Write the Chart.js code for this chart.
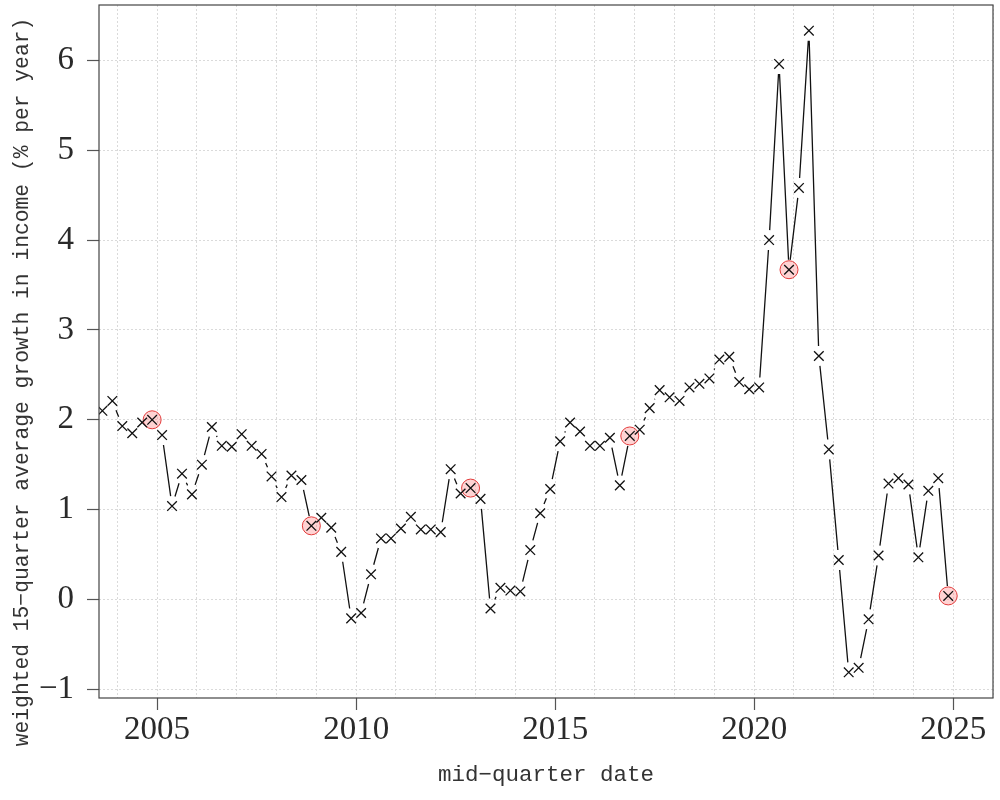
<!DOCTYPE html>
<html>
<head>
<meta charset="utf-8">
<script src="https://cdn.jsdelivr.net/npm/chart.js@4"></script>
<style>
  html, body { margin: 0; padding: 0; background: #fff; }
  canvas { display: block; }
</style>
</head>
<body>
<canvas id="growth_chart" width="1000" height="800"></canvas>
<script>
"use strict"

// quarters shown (mid-quarter dates on the x axis)
var quarters = [
  '2003Q3','2003Q4',
  '2004Q1','2004Q2','2004Q3','2004Q4','2005Q1','2005Q2','2005Q3','2005Q4',
  '2006Q1','2006Q2','2006Q3','2006Q4','2007Q1','2007Q2','2007Q3','2007Q4',
  '2008Q1','2008Q2','2008Q3','2008Q4','2009Q1','2009Q2','2009Q3','2009Q4',
  '2010Q1','2010Q2','2010Q3','2010Q4','2011Q1','2011Q2','2011Q3','2011Q4',
  '2012Q1','2012Q2','2012Q3','2012Q4','2013Q1','2013Q2','2013Q3','2013Q4',
  '2014Q1','2014Q2','2014Q3','2014Q4','2015Q1','2015Q2','2015Q3','2015Q4',
  '2016Q1','2016Q2','2016Q3','2016Q4','2017Q1','2017Q2','2017Q3','2017Q4',
  '2018Q1','2018Q2','2018Q3','2018Q4','2019Q1','2019Q2','2019Q3','2019Q4',
  '2020Q1','2020Q2','2020Q3','2020Q4','2021Q1','2021Q2','2021Q3','2021Q4',
  '2022Q1','2022Q2','2022Q3','2022Q4','2023Q1','2023Q2','2023Q3','2023Q4',
  '2024Q1','2024Q2','2024Q3','2024Q4'
];

// weighted 15-quarter average growth in income (% per year)
var growth = [
  2.10, 2.21,
  1.93, 1.85, 1.97, 2.00, 1.83, 1.04, 1.40, 1.17,
  1.50, 1.92, 1.71, 1.70, 1.84, 1.71, 1.62, 1.37,
  1.14, 1.38, 1.33, 0.82, 0.91, 0.80, 0.53, -0.21,
  -0.15, 0.28, 0.68, 0.68, 0.79, 0.92, 0.78, 0.78,
  0.75, 1.45, 1.18, 1.24, 1.12, -0.10, 0.13, 0.10,
  0.09, 0.55, 0.96, 1.23, 1.76, 1.97, 1.87, 1.71,
  1.71, 1.80, 1.27, 1.82, 1.89, 2.13, 2.33, 2.25,
  2.21, 2.36, 2.40, 2.46, 2.67, 2.70, 2.42, 2.34,
  2.36, 4.00, 5.96, 3.67, 4.58, 6.33, 2.71, 1.67,
  0.44, -0.81, -0.76, -0.22, 0.49, 1.29, 1.35, 1.28,
  0.47, 1.21, 1.35, 0.04
];

// election quarters circled in red
var highlighted = ['2004Q4','2008Q4','2012Q4','2016Q4','2020Q4','2024Q4'];

var xTicks = [2005, 2010, 2015, 2020, 2025];
var xTitle = 'mid\u2212quarter date';
var yTitle = 'weighted 15\u2212quarter average growth in income (% per year)';

var midQuarter = [0.125, 0.375, 0.625, 0.875];
function quarterToX(q) {
  return parseInt(q.slice(0, 4), 10) + midQuarter[parseInt(q.slice(5), 10) - 1];
}

var mainPoints = quarters.map(function (q, i) { return { x: quarterToX(q), y: growth[i] }; });
var circlePoints = highlighted.map(function (q) {
  return { x: quarterToX(q), y: growth[quarters.indexOf(q)] };
});

// R-style type="b": segments stop short of each marker
var GAP = 10;
var gappedLines = {
  id: 'gappedLines',
  beforeDatasetsDraw: function (chart) {
    var pts = chart.getDatasetMeta(1).data;
    var ctx = chart.ctx;
    ctx.save();
    ctx.strokeStyle = '#111';
    ctx.lineWidth = 1.3;
    ctx.beginPath();
    for (var i = 0; i < pts.length - 1; i++) {
      var a = pts[i], b = pts[i + 1];
      var dx = b.x - a.x, dy = b.y - a.y, d = Math.hypot(dx, dy);
      if (d <= 2 * GAP) continue;
      var ux = dx / d, uy = dy / d;
      ctx.moveTo(a.x + ux * GAP, a.y + uy * GAP);
      ctx.lineTo(b.x - ux * GAP, b.y - uy * GAP);
    }
    ctx.stroke();
    ctx.restore();
  }
};

var frameAndTitles = {
  id: 'frameAndTitles',
  afterDraw: function (chart) {
    var ctx = chart.ctx, area = chart.chartArea;
    ctx.save();
    ctx.strokeStyle = '#444';
    ctx.lineWidth = 1.2;
    ctx.strokeRect(area.left, area.top, area.right - area.left, area.bottom - area.top);

    ctx.fillStyle = '#333';
    ctx.textAlign = 'center';
    ctx.textBaseline = 'middle';
    ctx.font = '22.5px "Liberation Mono"';
    ctx.fillText(xTitle, (area.left + area.right) / 2, 775);

    ctx.translate(22, 382);
    ctx.rotate(-Math.PI / 2);
    ctx.font = '21.3px "Liberation Mono"';
    ctx.fillText(yTitle, 0, 0);
    ctx.restore();
  }
};

var growth_config = {
  type: 'scatter',
  data: {
    datasets: [{
      data: circlePoints,
      order: 2,
      pointStyle: 'circle',
      pointRadius: 9,
      pointBackgroundColor: 'rgba(255, 110, 110, 0.3)',
      pointBorderColor: '#e23b3b',
      pointBorderWidth: 1,
      showLine: false
    }, {
      data: mainPoints,
      order: 1,
      pointStyle: 'crossRot',
      pointRadius: 6.8,
      pointBorderColor: '#111',
      pointBorderWidth: 1.3,
      showLine: false
    }]
  },
  options: {
    responsive: false,
    animation: false,
    devicePixelRatio: 1,
    layout: { autoPadding: false, padding: { top: 5, right: 7, left: 0, bottom: 0 } },
    plugins: {
      legend: { display: false },
      tooltip: { enabled: false }
    },
    scales: {
      x: {
        type: 'linear',
        min: 2003.54,
        max: 2026.0,
        afterFit: function (scale) {
          scale.height = 102;
          scale.paddingLeft = 0;
          scale.paddingRight = 0;
        },
        grid: {
          color: '#dadada',
          lineWidth: 1,
          tickLength: 12,
          tickWidth: 1.2,
          tickColor: function (c) {
            return xTicks.indexOf(c.tick && c.tick.value) >= 0 ? '#555' : 'rgba(0,0,0,0)';
          }
        },
        border: { display: false, dash: [2, 2] },
        ticks: {
          stepSize: 1,
          includeBounds: false,
          autoSkip: false,
          maxRotation: 0,
          padding: 4,
          color: '#2a2a2a',
          font: { family: '"Liberation Serif"', size: 33, lineHeight: 1 },
          callback: function (v) { return xTicks.indexOf(v) >= 0 ? String(v) : ''; }
        }
      },
      y: {
        min: -1.096,
        max: 6.616,
        afterFit: function (scale) {
          scale.width = 99;
          scale.paddingTop = 0;
          scale.paddingBottom = 0;
        },
        grid: {
          color: '#dadada',
          lineWidth: 1,
          tickLength: 12,
          tickWidth: 1.2,
          tickColor: '#555'
        },
        border: { display: false, dash: [2, 2] },
        ticks: {
          stepSize: 1,
          includeBounds: false,
          padding: 13,
          color: '#2a2a2a',
          font: { family: '"Liberation Serif"', size: 33, lineHeight: 1 },
          callback: function (v) { return v < 0 ? '\u2212' + Math.abs(v) : String(v); }
        }
      }
    }
  },
  plugins: [gappedLines, frameAndTitles]
};

var growth_ctx = document.getElementById('growth_chart').getContext('2d');
var growth_chart = new Chart(growth_ctx, growth_config);
</script>
</body>
</html>
